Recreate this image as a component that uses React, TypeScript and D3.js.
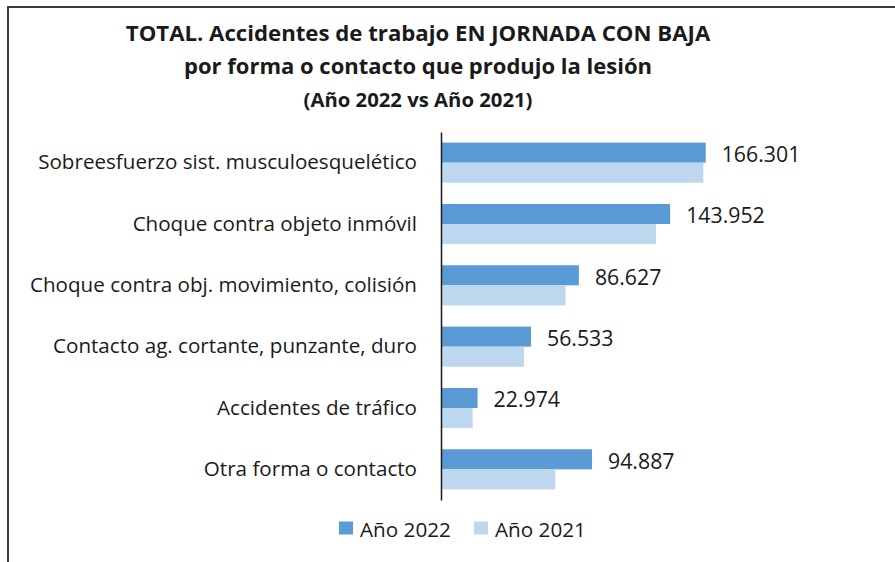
import { useEffect, useRef } from 'react';
import * as d3 from 'd3';

const categories = [
  'Sobreesfuerzo sist. musculoesquelético',
  'Choque contra objeto inmóvil',
  'Choque contra obj. movimiento, colisión',
  'Contacto ag. cortante, punzante, duro',
  'Accidentes de tráfico',
  'Otra forma o contacto',
];
const values2022 = [166301, 143952, 86627, 56533, 22974, 94887];
const values2021 = [164800, 135100, 78300, 52100, 19900, 71800];
const seriesNames = ['Año 2022', 'Año 2021'];
const titleLines = [
  'TOTAL. Accidentes de trabajo EN JORNADA CON BAJA',
  'por forma o contacto que produjo la lesión',
  '(Año 2022 vs Año 2021)',
];

const W = 895;
const H = 562;
const FONT = '"Open Sans", Lato, sans-serif';
const colors = ['#5B9BD5', '#BDD7EE'];

export default function App() {
  const svgRef = useRef<SVGSVGElement | null>(null);

  useEffect(() => {
    if (!svgRef.current) return;
    const svg = d3.select(svgRef.current);
    svg.selectAll('*').remove();

    svg.append('rect').attr('width', W).attr('height', H).attr('fill', '#fff');

    // chart frame (runs past the right and bottom edges)
    svg.append('rect')
      .attr('x', 8).attr('y', 7)
      .attr('width', W + 20).attr('height', H + 20)
      .attr('fill', 'none')
      .attr('stroke', '#3a3a3a')
      .attr('stroke-width', 2);

    // title
    const title = svg.append('text')
      .attr('text-anchor', 'middle')
      .style('font-family', FONT)
      .style('font-weight', 700)
      .attr('fill', '#1a1a1a');
    const titleSizes = ['22.2px', '22px', '20.3px'];
    titleLines.forEach((t, i) => {
      title.append('tspan')
        .attr('x', 418)
        .attr('y', 41 + i * 33)
        .style('font-size', titleSizes[i])
        .text(t);
    });

    const axisX = 441;
    const x = d3.scaleLinear().domain([0, 180000]).range([axisX, axisX + 180000 * (264.7 / 166301)]);
    const y = d3.scaleBand<string>()
      .domain(categories)
      .range([132, 500])
      .paddingInner(0.346)
      .paddingOuter(0.173);
    const sub = d3.scaleBand<number>()
      .domain([0, 1])
      .range([0, y.bandwidth()]);

    const series = [values2022, values2021];
    series.forEach((vals, s) => {
      svg.append('g')
        .selectAll('rect')
        .data(vals)
        .join('rect')
        .attr('x', x(0))
        .attr('y', (_, i) => (y(categories[i]) as number) + (sub(s) as number))
        .attr('width', d => x(d) - x(0))
        .attr('height', sub.bandwidth())
        .attr('fill', colors[s]);
    });

    // value labels for 2022
    svg.append('g')
      .selectAll('text')
      .data(values2022)
      .join('text')
      .attr('x', d => x(d) + 16)
      .attr('y', (_, i) => (y(categories[i]) as number) + (sub(0) as number) + sub.bandwidth() / 2 + 1)
      .attr('dominant-baseline', 'central')
      .style('font-family', FONT)
      .style('font-size', '21.3px')
      .attr('fill', '#1a1a1a')
      .text(d => d3.format(',')(d).replace(/,/g, '.'));

    // category axis
    const yAxis = svg.append('g')
      .attr('transform', `translate(${axisX},0)`)
      .call(d3.axisLeft(y).tickSize(0).tickPadding(24));
    yAxis.select('.domain')
      .attr('stroke', '#1a1a1a')
      .attr('stroke-width', 1.5);
    yAxis.selectAll('text')
      .style('font-family', FONT)
      .style('font-size', '20.6px')
      .attr('fill', '#1a1a1a');

    // legend
    const legendX = [339, 474];
    seriesNames.forEach((name, s) => {
      const g = svg.append('g').attr('transform', `translate(${legendX[s]},528)`);
      g.append('rect')
        .attr('x', 0).attr('y', -6.5)
        .attr('width', 14).attr('height', 13)
        .attr('fill', colors[s]);
      g.append('text')
        .attr('x', 21).attr('y', 1)
        .attr('dominant-baseline', 'central')
        .style('font-family', FONT)
        .style('font-size', '20.7px')
        .attr('fill', '#1a1a1a')
        .text(name);
    });
  }, []);

  return (
    <svg
      ref={svgRef}
      width={W}
      height={H}
      style={{ position: 'absolute', left: 0, top: 0, display: 'block' }}
    />
  );
}
